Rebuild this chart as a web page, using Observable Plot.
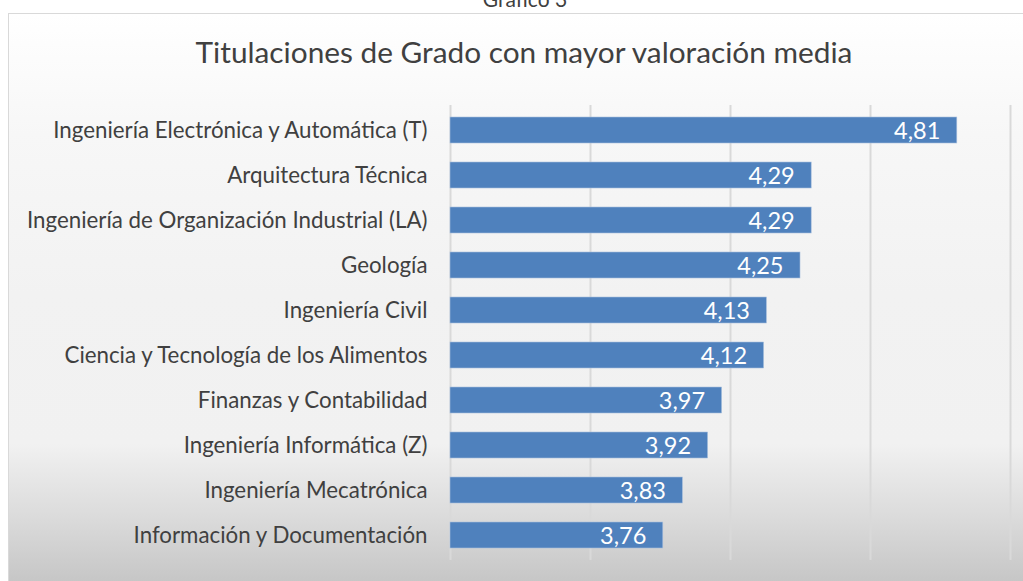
<!DOCTYPE html>
<html>
<head>
<meta charset="utf-8">
<script src="https://cdn.jsdelivr.net/npm/d3@7"></script>
<script src="https://cdn.jsdelivr.net/npm/@observablehq/plot@0.6"></script>
<style>
  html, body { margin: 0; padding: 0; background: #ffffff; }
  #wrap { position: relative; width: 1023px; height: 581px; overflow: hidden; font-family: Lato, "Open Sans", sans-serif; }
  #sup { position: absolute; left: 0; width: 1050px; top: -12px; line-height: 21px; text-align: center; font-size: 21px; color: #404040; }
  #frame { position: absolute; left: 8px; top: 13px; width: 1030px; height: 600px; border: 1px solid #d9d9d9;
           background: linear-gradient(to bottom, #ffffff 0px, #f7f7f7 120px, #f2f2f2 280px, #f1f1f1 430px, #dcdcdc 500px, #c6c6c6 568px); }
  #title { position: absolute; left: 0; width: 1048px; top: 37px; line-height: 30px; text-align: center; font-size: 29.8px; color: #404040; }
  #chart { position: absolute; left: 0; top: 0; }
</style>
</head>
<body>
<div id="wrap">
  <div id="sup">Gráfico 3</div>
  <div id="frame"></div>
  <div id="title">Titulaciones de Grado con mayor valoración media</div>
  <div id="chart"></div>
</div>
<script>
const titulaciones = [
  "Ingeniería Electrónica y Automática (T)",
  "Arquitectura Técnica",
  "Ingeniería de Organización Industrial (LA)",
  "Geología",
  "Ingeniería Civil",
  "Ciencia y Tecnología de los Alimentos",
  "Finanzas y Contabilidad",
  "Ingeniería Informática (Z)",
  "Ingeniería Mecatrónica",
  "Información y Documentación"
];
const valoracion = [4.81, 4.29, 4.29, 4.25, 4.13, 4.12, 3.97, 3.92, 3.83, 3.76];
const gridTicks = [3, 3.5, 4, 4.5, 5];

const data = titulaciones.map((t, i) => ({titulacion: t, valor: valoracion[i]}));
const fmt = v => v.toFixed(2).replace(".", ",");

const chart = Plot.plot({
  width: 1023,
  height: 581,
  marginLeft: 450,
  marginRight: 13,
  marginTop: 105,
  marginBottom: 21,
  style: {background: "transparent", fontFamily: "Lato, 'Open Sans', sans-serif", overflow: "visible"},
  x: {domain: [3, 5], axis: null},
  y: {domain: titulaciones, paddingInner: 0.43, paddingOuter: 0.215, label: null},
  marks: [
    Plot.ruleX(gridTicks, {stroke: "#d9d9d9", strokeWidth: 2}),
    Plot.barX(data, {x1: 3, x2: "valor", y: "titulacion", fill: "#4f81bd", stroke: "#a9c0dd", strokeWidth: 0.6}),
    Plot.text(data, {x: "valor", y: "titulacion", text: d => fmt(d.valor), textAnchor: "end", dx: -17, dy: 1, fill: "white", fontSize: 23.5}),
    Plot.axisY({tickSize: 0, tickPadding: 23, fontSize: 22.3, color: "#404040", label: null})
  ]
});
document.getElementById("chart").appendChild(chart);
</script>
</body>
</html>
